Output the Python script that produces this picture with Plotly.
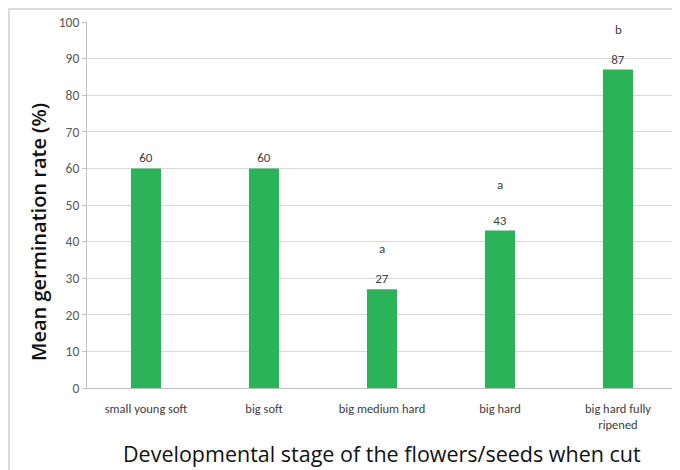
import plotly.graph_objects as go

categories = ["small young soft", "big soft", "big medium hard", "big hard", "big hard fully<br>ripened"]
values = [60, 60, 27, 43, 87]
letters = ["", "", "a", "a", "b"]
letter_y = [None, None, 38, 55.5, 98]

small_font = "Carlito, Lato, 'Liberation Sans', sans-serif"
title_font = "'Open Sans', sans-serif"
green = "#2BB35A"

W, H = 672, 462
L, R, T, B = 79, 3, 14, 82
pw, ph = W - L - R, H - T - B

fig = go.Figure()
fig.add_trace(go.Bar(
    x=categories, y=values, marker=dict(color=green, line=dict(width=0)),
    text=[str(v) for v in values], textposition="outside",
    textfont=dict(size=13, color="#404040", family=small_font),
    cliponaxis=False,
))

for c, l, ly in zip(categories, letters, letter_y):
    if l:
        fig.add_annotation(x=c, y=ly, text=l, showarrow=False,
                           font=dict(size=13, color="#404040", family=small_font))

# axis titles
fig.add_annotation(xref="paper", yref="paper", x=0.5, y=(ph - 431) / ph,
                   xanchor="center", yanchor="middle", showarrow=False,
                   text="Developmental stage of the flowers/seeds when cut",
                   font=dict(size=21.5, color="#111111", family=title_font, weight=500))
fig.add_annotation(xref="paper", yref="paper", x=(30 - L) / pw, y=(ph + T - 224) / ph,
                   xanchor="center", yanchor="middle", showarrow=False, textangle=-90,
                   text="Mean germination rate (%)",
                   font=dict(size=20, color="#111111", family=title_font, weight=600))

fig.add_shape(type="rect", xref="paper", yref="paper",
              x0=(-L + 1) / pw, x1=1.2, y0=-1, y1=(ph + T - 1) / ph,
              line=dict(color="#D0D0D0", width=1.5), layer="below")

fig.update_layout(
    width=W, height=H,
    margin=dict(l=L, r=R, t=T, b=B),
    paper_bgcolor="white", plot_bgcolor="white",
    bargap=0.745,
    showlegend=False,
    font=dict(family=small_font, color="#595959"),
    xaxis=dict(
        showline=True, linecolor="#BFBFBF", linewidth=1,
        tickfont=dict(size=12.5, color="#404040"),
        ticks="", ticklabelstandoff=9,
    ),
    yaxis=dict(
        range=[0, 100], dtick=10, showgrid=True, gridcolor="#D9D9D9", gridwidth=1.2,
        zeroline=False, showline=True, linecolor="#BFBFBF", linewidth=1,
        ticks="outside", ticklen=4, tickcolor="#BFBFBF",
        tickfont=dict(size=13.5, color="#595959"),
    ),
)

fig.write_html("out.html")
